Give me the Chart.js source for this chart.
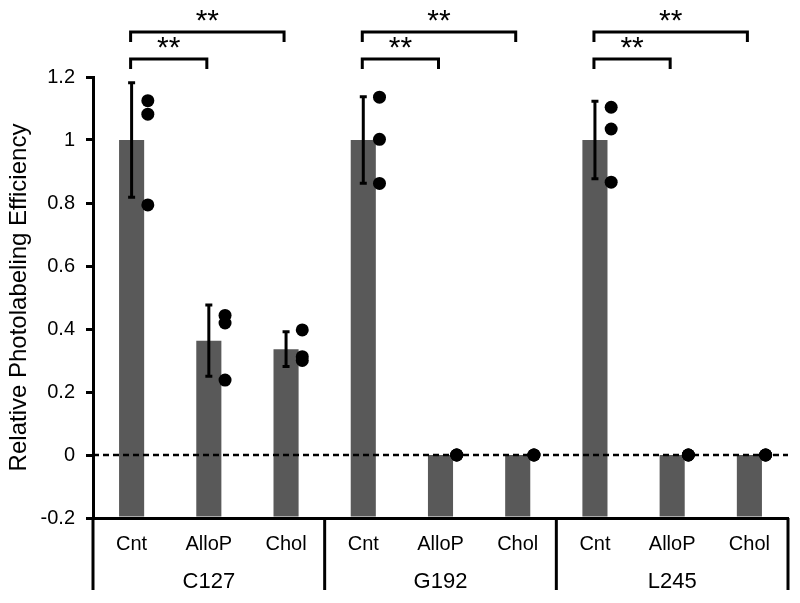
<!DOCTYPE html>
<html>
<head>
<meta charset="utf-8">
<script src="https://cdn.jsdelivr.net/npm/chart.js@4"></script>
<style>
  body { margin: 0; background: #fff; }
  #wrap { width: 800px; height: 603px; }
</style>
</head>
<body>
<div id="wrap"><canvas id="photolabel-chart"></canvas></div>
<script>
const categories = ['Cnt', 'AlloP', 'Chol', 'Cnt', 'AlloP', 'Chol', 'Cnt', 'AlloP', 'Chol'];
const groups = ['C127', 'G192', 'L245'];
const means = [1, 0.363, 0.336, 1, 0, 0, 1, 0, 0];
const errors = [0.182, 0.113, 0.055, 0.137, 0, 0, 0.123, 0, 0];
const replicates = [
  [1.125, 1.082, 0.794],
  [0.443, 0.419, 0.238],
  [0.397, 0.312, 0.300],
  [1.136, 1.002, 0.862],
  [0, 0, 0],
  [0, 0, 0],
  [1.104, 1.035, 0.866],
  [0, 0, 0],
  [0, 0, 0]
];
// significance brackets: category index from -> to, height in y units, label
const brackets = [
  { from: 0, to: 1, level: 1.257, label: '**' },
  { from: 0, to: 2, level: 1.343, label: '**' },
  { from: 3, to: 4, level: 1.257, label: '**' },
  { from: 3, to: 5, level: 1.343, label: '**' },
  { from: 6, to: 7, level: 1.257, label: '**' },
  { from: 6, to: 8, level: 1.343, label: '**' }
];

const FONT = "'Liberation Sans', Arial, sans-serif";
const DOT_SHIFT = 0.21;

const dotPoints = [];
replicates.forEach((vals, i) => {
  vals.forEach(v => dotPoints.push({ x: i + DOT_SHIFT, y: v }));
});

const extras = {
  id: 'extras',
  beforeDatasetDraw(chart, args) {
    if (args.index !== 1) return;
    const { ctx, chartArea } = chart;
    const x = chart.scales.x;
    const y = chart.scales.y;
    ctx.save();
    // dashed zero line
    ctx.strokeStyle = '#000';
    ctx.lineWidth = 2.5;
    ctx.setLineDash([6, 4]);
    ctx.beginPath();
    ctx.moveTo(chartArea.left, y.getPixelForValue(0));
    ctx.lineTo(chartArea.right, y.getPixelForValue(0));
    ctx.stroke();
    ctx.setLineDash([]);
    // error bars
    ctx.lineWidth = 3;
    means.forEach((m, i) => {
      if (!errors[i]) return;
      const cx = x.getPixelForValue(i);
      const top = y.getPixelForValue(m + errors[i]);
      const bot = y.getPixelForValue(m - errors[i]);
      ctx.beginPath();
      ctx.moveTo(cx, top);
      ctx.lineTo(cx, bot);
      ctx.moveTo(cx - 3.5, top);
      ctx.lineTo(cx + 3.5, top);
      ctx.moveTo(cx - 3.5, bot);
      ctx.lineTo(cx + 3.5, bot);
      ctx.stroke();
    });
    ctx.restore();
  },
  afterDraw(chart) {
    const { ctx, chartArea } = chart;
    const x = chart.scales.x;
    const y = chart.scales.y;
    ctx.save();
    ctx.strokeStyle = '#000';
    ctx.fillStyle = '#000';
    ctx.lineWidth = 3;
    // group separators under the axis
    const bounds = [chartArea.left];
    for (let g = 1; g < groups.length; g++) {
      bounds.push((x.getPixelForValue(g * 3 - 1) + x.getPixelForValue(g * 3)) / 2);
    }
    bounds.push(chartArea.right);
    bounds.forEach(bx => {
      ctx.beginPath();
      ctx.moveTo(bx, chartArea.bottom);
      ctx.lineTo(bx, chartArea.bottom + 72);
      ctx.stroke();
    });
    // group labels
    ctx.font = '22px ' + FONT;
    ctx.textAlign = 'center';
    ctx.textBaseline = 'middle';
    groups.forEach((g, i) => {
      ctx.fillText(g, x.getPixelForValue(i * 3 + 1), chartArea.bottom + 64);
    });
    // significance brackets
    ctx.font = '30px ' + FONT;
    ctx.textBaseline = 'alphabetic';
    brackets.forEach(b => {
      const x1 = x.getPixelForValue(b.from) - 1;
      const x2 = x.getPixelForValue(b.to) - 2;
      const by = y.getPixelForValue(b.level);
      ctx.beginPath();
      ctx.moveTo(x1, by + 10);
      ctx.lineTo(x1, by);
      ctx.lineTo(x2, by);
      ctx.lineTo(x2, by + 10);
      ctx.stroke();
      ctx.fillText(b.label, (x1 + x2) / 2, by - 2);
    });
    ctx.restore();
  }
};

new Chart(document.getElementById('photolabel-chart'), {
  type: 'bar',
  data: {
    labels: categories,
    datasets: [
      {
        data: means,
        base: -0.2,
        grouped: false,
        backgroundColor: '#595959',
        borderWidth: 0,
        barPercentage: 1,
        categoryPercentage: 0.325,
        order: 2
      },
      {
        type: 'scatter',
        data: dotPoints,
        xAxisID: 'xd',
        backgroundColor: '#000',
        borderWidth: 0,
        pointRadius: 6.5,
        order: 1
      }
    ]
  },
  options: {
    responsive: true,
    maintainAspectRatio: false,
    animation: false,
    layout: { padding: { top: 77, right: 12, left: 0, bottom: 0 } },
    plugins: {
      legend: { display: false },
      tooltip: { enabled: false }
    },
    scales: {
      x: {
        grid: { display: false },
        border: { display: true, color: '#000', width: 3 },
        ticks: { color: '#000', font: { family: FONT, size: 20 }, padding: 6, maxRotation: 0 },
        afterFit(scale) { scale.height = 85; }
      },
      xd: {
        type: 'linear',
        display: false,
        offset: false,
        bounds: 'data',
        min: -0.5,
        max: 8.5,
        grid: { offset: false }
      },
      y: {
        min: -0.2,
        max: 1.2,
        ticks: {
          stepSize: 0.2,
          color: '#000',
          padding: 11,
          font: { family: FONT, size: 20 },
          callback: v => String(Number(v.toFixed(1)))
        },
        grid: { display: true, drawOnChartArea: false, drawTicks: true, tickLength: 7, color: '#000', lineWidth: 3 },
        border: { display: true, color: '#000', width: 3 },
        title: {
          display: true,
          text: 'Relative Photolabeling Efficiency',
          color: '#000',
          font: { family: FONT, size: 24 },
          padding: { top: 5, bottom: 0 }
        },
        afterFit(scale) { scale.width = 93; }
      }
    }
  },
  plugins: [extras]
});
</script>
</body>
</html>
